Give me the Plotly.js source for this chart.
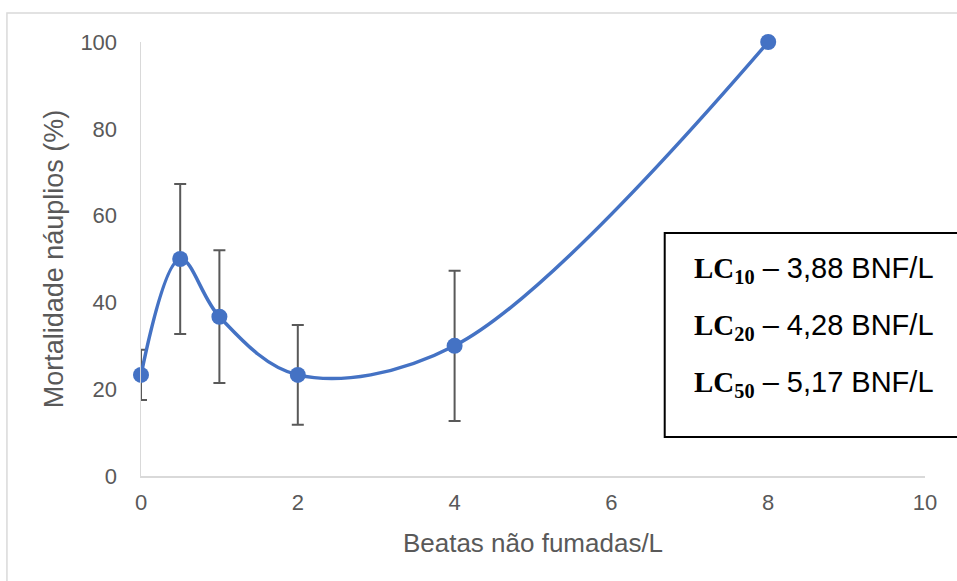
<!DOCTYPE html>
<html>
<head>
<meta charset="utf-8">
<script src="https://cdn.plot.ly/plotly-3.0.1.min.js"></script>
<style>
html,body{margin:0;padding:0;background:#fff;}
#chart{width:957px;height:581px;}
</style>
</head>
<body>
<div id="chart"></div>
<script>
// Data
var concentrations = [0, 0.5, 1, 2, 4, 8];
var mortality = [23.3, 50, 36.7, 23.3, 30, 100];
var errors = [5.8, 17.3, 15.3, 11.5, 17.3, 0];
var lcLabels = ["10", "20", "50"];
var lcValues = ["3,88", "4,28", "5,17"];
var xTickVals = [0, 2, 4, 6, 8, 10];
var yTickVals = [0, 20, 40, 60, 80, 100];

var sans = "Liberation Sans, Arial, sans-serif";
var grey = "#595959";

var trace = {
  x: concentrations,
  y: mortality,
  type: "scatter",
  mode: "lines+markers",
  cliponaxis: false,
  line: {color: "#4472C4", width: 3.5, shape: "spline", smoothing: 1},
  marker: {color: "#4472C4", size: 16},
  error_y: {type: "data", array: errors, visible: true, color: grey, thickness: 2, width: 6},
  showlegend: false,
  hoverinfo: "x+y"
};

var annotations = lcLabels.map(function(lab, i){
  return {
    xref: "paper", yref: "paper",
    x: 0.703, y: 0.475 - i*0.131,
    xanchor: "left", yanchor: "middle",
    showarrow: false,
    align: "left",
    text: '<span style="font-family:Liberation Serif"><b>LC<sub>' + lab + '</sub></b></span> – ' + lcValues[i] + ' BNF/L',
    font: {family: sans, size: 29, color: "#000"}
  };
});

var layout = {
  width: 957, height: 581,
  margin: {l: 141, r: 32, t: 42, b: 105},
  paper_bgcolor: "#fff",
  plot_bgcolor: "#fff",
  xaxis: {
    range: [0, 10],
    tickvals: xTickVals,
    showgrid: false, zeroline: false,
    showline: true, linecolor: "#d9d9d9", linewidth: 1.5,
    ticks: "",
    ticklabelstandoff: 6,
    tickfont: {family: sans, size: 22, color: grey},
    title: {text: "Beatas não fumadas/L", font: {family: sans, size: 26, color: grey}, standoff: 20}
  },
  yaxis: {
    range: [0, 100],
    tickvals: yTickVals,
    showgrid: false, zeroline: false,
    showline: true, linecolor: "#d9d9d9", linewidth: 1.5,
    ticks: "",
    ticklabelstandoff: 18,
    tickfont: {family: sans, size: 22, color: grey},
    title: {text: "Mortalidade náuplios (%)", font: {family: sans, size: 27, color: grey}, standoff: 9}
  },
  shapes: [
    {type: "rect", xref: "paper", yref: "paper", x0: -0.171, x1: 1.2, y0: -0.4, y1: 1.067,
     line: {color: "#d9d9d9", width: 1.5}, fillcolor: "rgba(0,0,0,0)", layer: "below"},
    {type: "rect", xref: "paper", yref: "paper", x0: 0.668, x1: 1.2, y0: 0.09, y1: 0.56,
     line: {color: "#000", width: 2}, fillcolor: "#fff"}
  ],
  annotations: annotations
};

Plotly.newPlot("chart", [trace], layout, {displayModeBar: false, staticPlot: true});
</script>
</body>
</html>
